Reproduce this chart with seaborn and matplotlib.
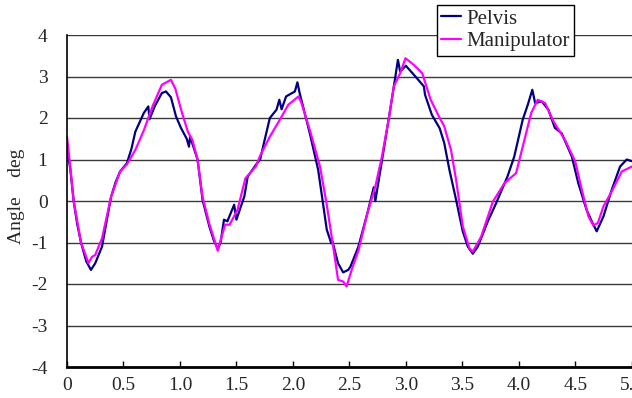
import matplotlib
matplotlib.use("Agg")
import matplotlib.pyplot as plt
import seaborn as sns
import pandas as pd

# Time [s] and angle [deg], one list per series
pelvis_t = [0.0, 0.03, 0.059, 0.09, 0.124, 0.17, 0.212, 0.25, 0.31, 0.35, 0.39, 0.43, 0.47, 0.53,
            0.57, 0.605, 0.68, 0.72, 0.73, 0.78, 0.84, 0.876, 0.92, 0.965, 1.009, 1.06, 1.08, 1.09,
            1.156, 1.20, 1.26, 1.30, 1.335, 1.36, 1.39, 1.42, 1.48, 1.50, 1.57, 1.60, 1.672, 1.71,
            1.75, 1.796, 1.855, 1.88, 1.90, 1.94, 2.018, 2.04, 2.06, 2.15, 2.224, 2.30, 2.34, 2.35,
            2.40, 2.445, 2.49, 2.51, 2.58, 2.66, 2.716, 2.73, 2.79, 2.85, 2.894, 2.93, 2.95, 3.0,
            3.085, 3.16, 3.17, 3.23, 3.30, 3.34, 3.386, 3.445, 3.504, 3.549, 3.593, 3.637, 3.726,
            3.80, 3.90, 3.96, 4.035, 4.08, 4.12, 4.145, 4.204, 4.262, 4.32, 4.38, 4.47, 4.527,
            4.60, 4.646, 4.69, 4.75, 4.823, 4.897, 4.956, 5.0]
pelvis_deg = [1.30, 0.75, 0.0, -0.55, -1.0, -1.45, -1.66, -1.50, -1.10, -0.50, 0.10, 0.45, 0.71, 0.91,
              1.25, 1.67, 2.12, 2.28, 1.97, 2.30, 2.60, 2.64, 2.50, 2.04, 1.76, 1.50, 1.31, 1.55,
              1.0, 0.03, -0.61, -0.95, -1.15, -1.0, -0.45, -0.49, -0.09, -0.45, 0.11, 0.59, 0.87, 1.0,
              1.47, 2.0, 2.2, 2.44, 2.21, 2.52, 2.64, 2.86, 2.60, 1.63, 0.75, -0.69, -1.02, -0.97,
              -1.50, -1.72, -1.66, -1.58, -1.10, -0.29, 0.33, 0.0, 1.0, 2.0, 2.76, 3.40, 3.12, 3.26,
              3.0, 2.76, 2.56, 2.08, 1.75, 1.40, 0.75, 0.03, -0.73, -1.10, -1.27, -1.10, -0.49,
              -0.05, 0.59, 1.07, 1.96, 2.32, 2.68, 2.36, 2.40, 2.20, 1.76, 1.63, 1.07, 0.43,
              -0.21, -0.49, -0.73, -0.37, 0.27, 0.83, 1.0, 0.96]

manip_t = [0.0, 0.03, 0.059, 0.124, 0.19, 0.22, 0.25, 0.31, 0.39, 0.47, 0.53, 0.605, 0.68, 0.76,
           0.84, 0.92, 0.96, 1.01, 1.07, 1.11, 1.156, 1.20, 1.26, 1.335, 1.36, 1.40, 1.44, 1.51,
           1.58, 1.672, 1.71, 1.796, 1.885, 1.96, 2.05, 2.076, 2.15, 2.24, 2.30, 2.357, 2.40, 2.445,
           2.475, 2.525, 2.58, 2.66, 2.73, 2.79, 2.85, 2.894, 2.95, 2.997, 3.07, 3.145, 3.22, 3.30,
           3.34, 3.40, 3.445, 3.504, 3.563, 3.593, 3.667, 3.77, 3.873, 3.976, 4.05, 4.11, 4.168,
           4.233, 4.307, 4.41, 4.50, 4.558, 4.617, 4.66, 4.70, 4.75, 4.823, 4.912, 5.0]
manip_deg = [1.55, 0.80, 0.0, -1.0, -1.5, -1.35, -1.30, -0.90, 0.10, 0.71, 0.88, 1.23, 1.70, 2.30,
             2.80, 2.92, 2.70, 2.20, 1.67, 1.47, 1.0, 0.10, -0.55, -1.20, -0.94, -0.57, -0.57, -0.21,
             0.55, 0.83, 1.09, 1.55, 1.96, 2.32, 2.52, 2.36, 1.71, 0.83, -0.09, -1.1, -1.90, -1.94,
             -2.06, -1.62, -1.2, -0.29, 0.35, 1.09, 2.0, 2.76, 3.08, 3.44, 3.28, 3.08, 2.44, 2.0,
             1.80, 1.23, 0.51, -0.61, -1.14, -1.22, -0.86, -0.02, 0.43, 0.67, 1.47, 2.12, 2.44,
             2.36, 1.92, 1.47, 0.95, 0.27, -0.37, -0.59, -0.53, -0.13, 0.23, 0.71, 0.83]

x_ticks = [0, 0.5, 1.0, 1.5, 2.0, 2.5, 3.0, 3.5, 4.0, 4.5, 5.0]
x_tick_labels = ["0", "0.5", "1.0", "1.5", "2.0", "2.5", "3.0", "3.5", "4.0", "4.5", "5.0"]
y_ticks = [-4, -3, -2, -1, 0, 1, 2, 3, 4]

sns.set_theme(style="white")
plt.rcParams['font.family'] = ['Liberation Serif', 'DejaVu Serif']
plt.rcParams['axes.unicode_minus'] = False

fig = plt.figure(figsize=(6.32, 3.98), dpi=100)
# axes runs a bit past the right edge, like the cropped original
ax = fig.add_axes([67 / 632, 31 / 398, 576 / 632, 332 / 398])

pelvis = pd.DataFrame({"t": pelvis_t, "deg": pelvis_deg})
manip = pd.DataFrame({"t": manip_t, "deg": manip_deg})
sns.lineplot(data=pelvis, x="t", y="deg", ax=ax, color="#000080", linewidth=1.6, label="Pelvis")
sns.lineplot(data=manip, x="t", y="deg", ax=ax, color="#FF00FF", linewidth=1.6, label="Manipulator")

ax.set_xlim(0, 5.1)
ax.set_ylim(-4, 4)
ax.set_xticks(x_ticks)
ax.set_xticklabels(x_tick_labels)
ax.set_yticks(y_ticks)
ax.set_xlabel("")
ax.set_ylabel("")

# horizontal grid only
ax.yaxis.grid(True, color="#3a3a3a", linewidth=1.0)
ax.xaxis.grid(False)
ax.set_axisbelow(True)
for side in ["top", "right"]:
    ax.spines[side].set_visible(False)
ax.spines["left"].set_color("black")
ax.spines["left"].set_linewidth(1.2)
ax.spines["bottom"].set_color("black")
ax.spines["bottom"].set_linewidth(2.0)

ax.tick_params(axis="x", direction="in", length=4, width=1, color="black",
               labelsize=14, pad=7, bottom=True)
ax.tick_params(axis="y", length=0, labelsize=14, pad=14)

fig.text(17 / 632, 202 / 398, "Angle    deg", rotation=90, ha="center", va="center", fontsize=14)

leg = ax.legend(loc="upper left", bbox_to_anchor=(437 / 632, 1 - 5 / 398),
                bbox_transform=fig.transFigure, fontsize=15, frameon=True, fancybox=False,
                handlelength=0.95, handletextpad=0.25, labelspacing=0.15, borderpad=0.2,
                borderaxespad=0)
leg.get_frame().set_edgecolor("black")
leg.get_frame().set_linewidth(1.0)
leg.get_frame().set_facecolor("white")
leg.get_frame().set_alpha(1)
leg.set_zorder(5)

fig.savefig("out.png", dpi=100)
plt.close(fig)
